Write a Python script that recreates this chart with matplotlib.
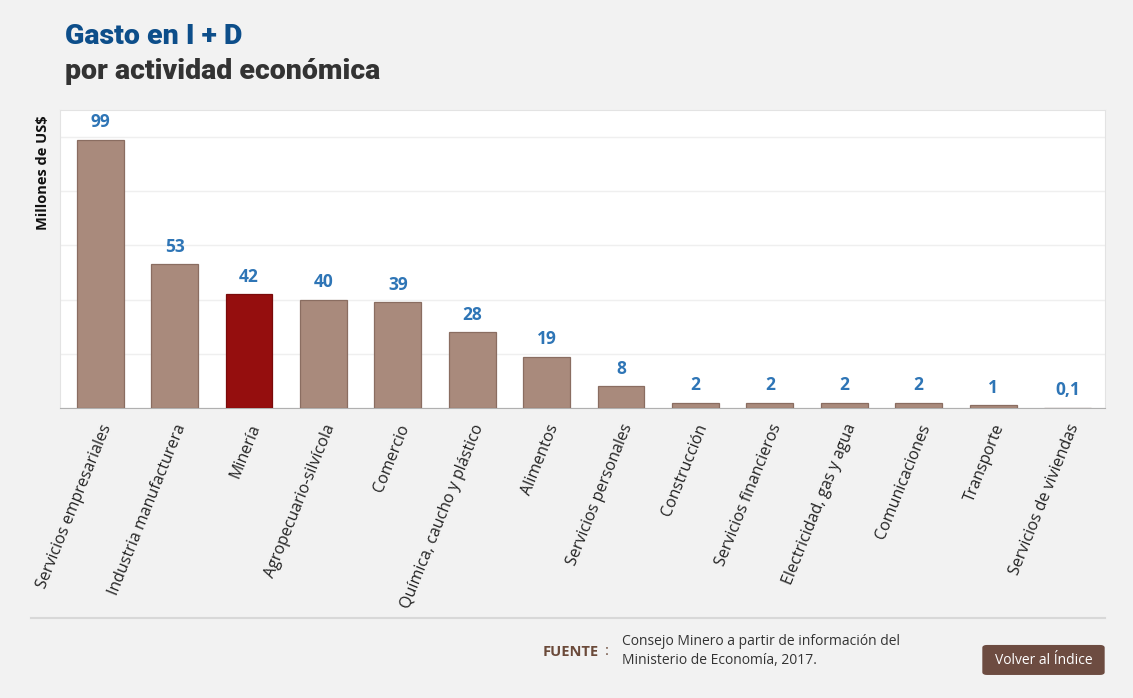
import matplotlib.pyplot as plt
from matplotlib.patches import FancyBboxPatch

categorias = ["Servicios empresariales", "Industria manufacturera", "Minería",
              "Agropecuario-silvícola", "Comercio", "Química, caucho y plástico",
              "Alimentos", "Servicios personales", "Construcción",
              "Servicios financieros", "Electricidad, gas y agua",
              "Comunicaciones", "Transporte", "Servicios de viviendas"]
gasto = [99, 53, 42, 40, 39, 28, 19, 8, 2, 2, 2, 2, 1, 0.1]
etiquetas = ["99", "53", "42", "40", "39", "28", "19", "8", "2", "2", "2", "2", "1", "0,1"]
destacado = "Minería"

fig = plt.figure(figsize=(11.33, 6.98), dpi=100)
fig.patch.set_facecolor("#f2f2f2")
ax = fig.add_axes([0.053, 0.4155, 0.922, 0.4269])
ax.set_facecolor("white")

colores = ["#950e0e" if c == destacado else "#a98a7c" for c in categorias]
bordes = ["#7a0a0a" if c == destacado else "#8a6d61" for c in categorias]
x = range(len(categorias))
ax.bar(x, gasto, width=0.63, color=colores, edgecolor=bordes, linewidth=0.9, zorder=3)

for i, (v, t) in enumerate(zip(gasto, etiquetas)):
    ax.annotate(t, (i, v), xytext=(0, 6), textcoords="offset points",
                ha="center", va="bottom", color="#2e75b6", fontsize=12.5,
                fontweight="bold", family="Open Sans")

ax.set_xlim(-0.54, 13.5)
ax.set_ylim(0, 110)
ax.set_yticks(range(0, 101, 20))
ax.set_yticklabels([])
ax.tick_params(axis="y", length=0)
ax.tick_params(axis="x", length=0, pad=10)
ax.grid(axis="y", color="#efefef", linewidth=1, zorder=0)
for s in ["top", "right", "left"]:
    ax.spines[s].set_color("#e3e3e3")
ax.spines["bottom"].set_color("#b0b0b0")
ax.set_xticks(list(x))
ax.set_xticklabels(categorias, rotation=68, ha="right", rotation_mode="anchor",
                   fontsize=11.5, family="Open Sans", color="#222222")

fig.text(0.038, 0.835, "Millones de US$", rotation=90, ha="center", va="top",
         fontsize=10.5, fontweight="bold", family="Open Sans", color="#111111")

fig.text(0.057, 0.947, "Gasto en I + D", fontsize=20.5, fontweight="heavy",
         color="#0d4e8a", va="center", family="Roboto")
fig.text(0.057, 0.897, "por actividad económica", fontsize=20.5, fontweight="heavy",
         color="#333333", va="center", family="Roboto")

fig.add_artist(plt.Line2D([0.027, 0.975], [0.115, 0.115], color="#d8d8d8",
                          linewidth=1.5, transform=fig.transFigure))

fig.text(0.479, 0.066, "FUENTE", fontsize=10.5, fontweight="bold",
         color="#6b4a3a", va="center", family="Open Sans")
fig.text(0.534, 0.066, ":", fontsize=10.5, color="#6b4a3a", va="center",
         family="Open Sans")
fig.text(0.549, 0.067, "Consejo Minero a partir de información del\nMinisterio de Economía, 2017.",
         fontsize=10, color="#333333", va="center", linespacing=1.35,
         family="Open Sans")

boton = FancyBboxPatch((0.867, 0.033), 0.108, 0.043,
                       boxstyle="round,pad=0,rounding_size=0.004",
                       transform=fig.transFigure, facecolor="#6d4c41",
                       edgecolor="none")
fig.add_artist(boton)
fig.text(0.921, 0.054, "Volver al Índice", fontsize=10, color="white",
         ha="center", va="center", family="Open Sans")

fig.savefig("out.png", dpi=100, facecolor=fig.get_facecolor())
